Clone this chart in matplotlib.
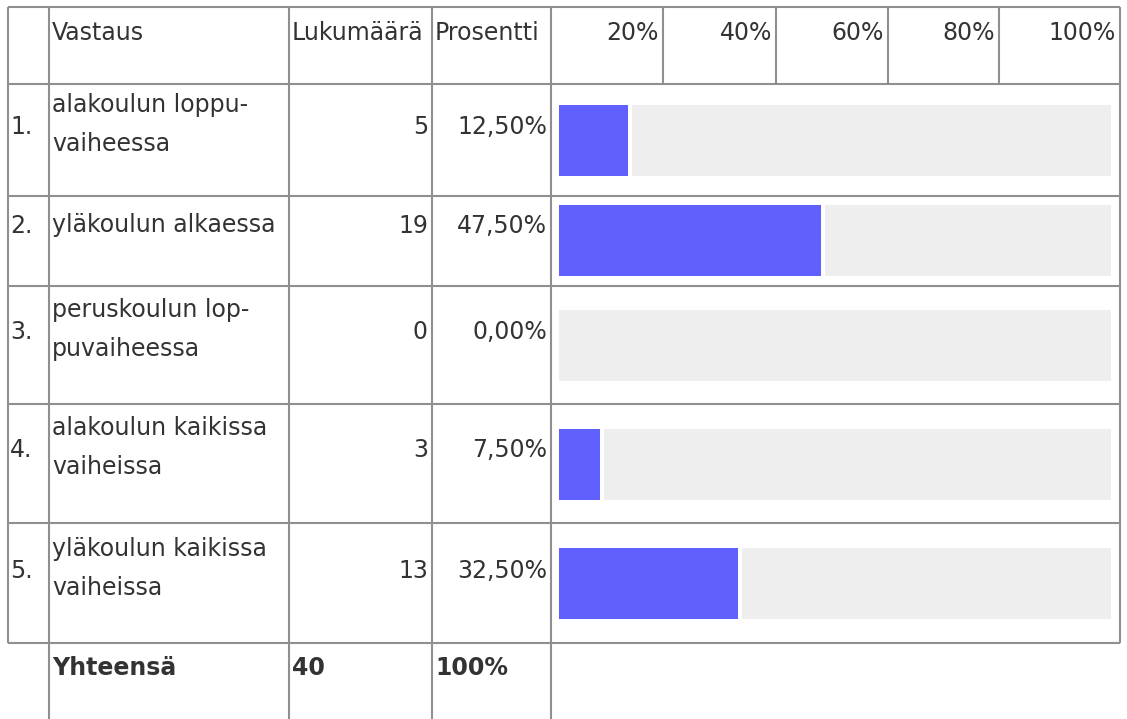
import matplotlib.pyplot as plt

# taulukon data
row_numbers = ['1.', '2.', '3.', '4.', '5.']
answers = [
    ['alakoulun loppu-', 'vaiheessa'],
    ['yläkoulun alkaessa'],
    ['peruskoulun lop-', 'puvaiheessa'],
    ['alakoulun kaikissa', 'vaiheissa'],
    ['yläkoulun kaikissa', 'vaiheissa'],
]
counts = [5, 19, 0, 3, 13]
headers = ['Vastaus', 'Lukumäärä', 'Prosentti']
scale_labels = ['20%', '40%', '60%', '80%', '100%']
total_label = 'Yhteensä'

total = sum(counts)
percents = [c / total * 100 for c in counts]


def fmt_pct(p):
    return f'{p:.2f}'.replace('.', ',') + '%'


# asettelu pikseleinä
W, H = 1127, 719
row_lines = [7, 84, 196, 286, 404, 523, 643]
col_lines = [7.5, 49, 289, 432, 551, 1120]
scale_lines = [551, 663, 776, 888, 999, 1120]
bar_x0, bar_x1 = 559, 1111
bar_tops = [105, 205, 310, 429, 548]
bar_h = 71
line1_base = [112, 232, 317, 435, 556]
line_gap = 39
num_base = [134, 233, 339, 457, 578]

line_col = '#8f8f8f'
text_col = '#333333'
blue = '#6060ff'
gray = '#eeeeee'
fs = 17
lw = 1.5

fig = plt.figure(figsize=(W / 100, H / 100), dpi=100)
ax = fig.add_axes([0, 0, 1, 1])
ax.set_xlim(0, W)
ax.set_ylim(H, 0)
ax.axis('off')

# palkit omaan akseliin, x = prosentti
bx = fig.add_axes([bar_x0 / W, 0, (bar_x1 - bar_x0) / W, 1])
bx.set_xlim(0, 100)
bx.set_ylim(H, 0)
bx.axis('off')
gap = 4 / (bar_x1 - bar_x0) * 100
centers = [t + bar_h / 2 for t in bar_tops]
bg_left = [p + gap if p > 0 else 0 for p in percents]
bx.barh(centers, [100 - l for l in bg_left], left=bg_left, height=bar_h, color=gray)
bx.barh(centers, percents, height=bar_h, color=blue)

# viivat
ax.hlines(row_lines, col_lines[0], col_lines[-1], color=line_col, lw=lw)
ax.vlines([col_lines[0], col_lines[-1]], row_lines[0], row_lines[-1], color=line_col, lw=lw)
ax.vlines(col_lines[1:5], row_lines[0], H, color=line_col, lw=lw)
ax.vlines(scale_lines[1:-1], row_lines[0], row_lines[1], color=line_col, lw=lw)

# otsikot
hy = 40
ax.text(52, hy, headers[0], fontsize=fs, color=text_col, va='baseline')
ax.text(col_lines[2] + 3, hy, headers[1], fontsize=fs, color=text_col, va='baseline')
ax.text(col_lines[3] + 3, hy, headers[2], fontsize=fs, color=text_col, va='baseline')
for x, lab in zip(scale_lines[1:], scale_labels):
    ax.text(x - 4, hy, lab, fontsize=fs, color=text_col, va='baseline', ha='right')

# rivit
for i in range(len(counts)):
    ax.text(10, num_base[i], row_numbers[i], fontsize=fs, color=text_col, va='baseline')
    for j, txt in enumerate(answers[i]):
        ax.text(52, line1_base[i] + j * line_gap, txt, fontsize=fs, color=text_col, va='baseline')
    ax.text(col_lines[3] - 4, num_base[i], str(counts[i]), fontsize=fs, color=text_col,
            va='baseline', ha='right')
    ax.text(col_lines[4] - 4, num_base[i], fmt_pct(percents[i]), fontsize=fs, color=text_col,
            va='baseline', ha='right')

# yhteensä
ty = 675
ax.text(52, ty, total_label, fontsize=fs, color=text_col, va='baseline', fontweight='bold')
ax.text(col_lines[2] + 3, ty, str(total), fontsize=fs, color=text_col, va='baseline', fontweight='bold')
ax.text(col_lines[3] + 3, ty, '100%', fontsize=fs, color=text_col, va='baseline', fontweight='bold')

fig.savefig('out.png', dpi=100, facecolor='white')
